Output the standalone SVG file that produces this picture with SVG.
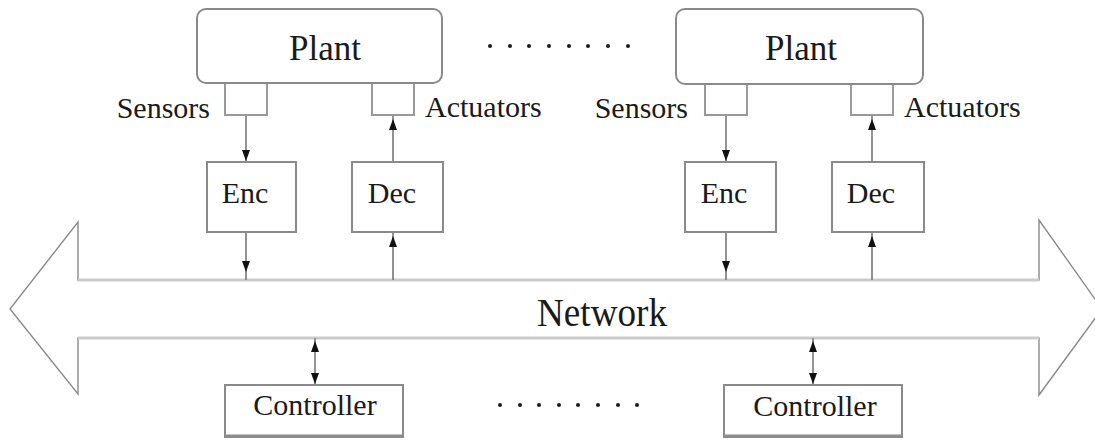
<svg xmlns="http://www.w3.org/2000/svg" xmlns:xlink="http://www.w3.org/1999/xlink" width="1095" height="441" viewBox="0 0 1095 441">
  <style>
    .box { fill: #fff; stroke: #8a8a8a; stroke-width: 2; }
    .port { fill: #fff; stroke: #999; stroke-width: 2; }
    .wire { stroke: #777; stroke-width: 1.6; fill: none; }
    .head { fill: #111; }
    .bus-edge { fill: #fff; stroke: #8a8a8a; stroke-width: 1.4; }
    .bus-rail { stroke: #cbcbcb; stroke-width: 3.2; }
    .base { stroke: #8c8c8c; stroke-width: 3; }
    .dot { fill: #1a1a1a; }
    text { font-family: "Liberation Serif", "Times New Roman", serif; fill: #1a1a1a; }
    .lbl { font-size: 30px; }
    .big { font-size: 35px; }
    .net { font-size: 40px; }
  </style>
  <defs>
    <!-- arrowheads drawn with the tip at the origin -->
    <path id="down" class="head" d="M-4,-11 L4,-11 L0,0 Z"/>
    <path id="up" class="head" d="M-4,11 L4,11 L0,0 Z"/>
  </defs>

  <!-- network bus: double-headed wide arrow -->
  <g id="network">
    <polygon class="bus-edge" points="78,280 78,222 10,309 78,394 78,338 1039,338 1039,395 1102,309 1039,220 1039,280"/>
    <line class="bus-rail" x1="78" y1="280" x2="1039" y2="280"/>
    <line class="bus-rail" x1="78" y1="338" x2="1039" y2="338"/>
    <text class="net" x="602" y="326" text-anchor="middle" textLength="130" lengthAdjust="spacingAndGlyphs">Network</text>
  </g>

  <!-- connectors -->
  <g id="connectors">
    <line class="wire" x1="246" y1="115" x2="246" y2="162"/>
    <line class="wire" x1="246" y1="232" x2="246" y2="280"/>
    <line class="wire" x1="393" y1="115" x2="393" y2="162"/>
    <line class="wire" x1="393" y1="232" x2="393" y2="280"/>
    <line class="wire" x1="726" y1="115" x2="726" y2="162"/>
    <line class="wire" x1="726" y1="232" x2="726" y2="280"/>
    <line class="wire" x1="872" y1="115" x2="872" y2="162"/>
    <line class="wire" x1="872" y1="232" x2="872" y2="280"/>
    <line class="wire" x1="315" y1="338" x2="315" y2="385"/>
    <line class="wire" x1="813" y1="338" x2="813" y2="385"/>

    <use xlink:href="#down" x="246" y="161"/>
    <use xlink:href="#down" x="246" y="272"/>
    <use xlink:href="#up" x="393" y="119"/>
    <use xlink:href="#up" x="393" y="236"/>
    <use xlink:href="#down" x="726" y="161"/>
    <use xlink:href="#down" x="726" y="272"/>
    <use xlink:href="#up" x="872" y="119"/>
    <use xlink:href="#up" x="872" y="236"/>
    <use xlink:href="#up" x="315" y="341"/>
    <use xlink:href="#down" x="315" y="384"/>
    <use xlink:href="#up" x="813" y="341"/>
    <use xlink:href="#down" x="813" y="384"/>
  </g>

  <!-- plant 1 with its sensor and actuator ports -->
  <g id="plant1">
    <rect class="port" x="225" y="83" width="42" height="32"/>
    <rect class="port" x="372" y="83" width="42" height="32"/>
    <rect class="box" x="197" y="9" width="245" height="74" rx="9"/>
    <text class="big" x="325" y="60" text-anchor="middle">Plant</text>
    <text class="lbl" x="210" y="118" text-anchor="end">Sensors</text>
    <text class="lbl" x="425" y="117">Actuators</text>
  </g>

  <!-- plant 2 with its sensor and actuator ports -->
  <g id="plant2">
    <rect class="port" x="705" y="84" width="42" height="31"/>
    <rect class="port" x="851" y="84" width="42" height="31"/>
    <rect class="box" x="676" y="9" width="247" height="75" rx="9"/>
    <text class="big" x="801" y="60" text-anchor="middle">Plant</text>
    <text class="lbl" x="688" y="118" text-anchor="end">Sensors</text>
    <text class="lbl" x="904" y="117">Actuators</text>
  </g>

  <g id="enc1">
    <rect class="box" x="207" y="162" width="89" height="70"/>
    <text class="lbl" x="245" y="203" text-anchor="middle">Enc</text>
  </g>
  <g id="dec1">
    <rect class="box" x="352" y="162" width="91" height="70"/>
    <text class="lbl" x="392" y="203" text-anchor="middle">Dec</text>
  </g>
  <g id="enc2">
    <rect class="box" x="685" y="162" width="91" height="70"/>
    <text class="lbl" x="724" y="203" text-anchor="middle">Enc</text>
  </g>
  <g id="dec2">
    <rect class="box" x="832" y="162" width="92" height="70"/>
    <text class="lbl" x="871" y="203" text-anchor="middle">Dec</text>
  </g>

  <g id="controller1">
    <rect class="box" x="225" y="385" width="178" height="52"/>
    <line class="base" x1="225" y1="436" x2="403" y2="436"/>
    <text class="lbl" x="315" y="415" text-anchor="middle">Controller</text>
  </g>
  <g id="controller2">
    <rect class="box" x="724" y="385" width="178" height="52"/>
    <line class="base" x1="724" y1="436" x2="902" y2="436"/>
    <text class="lbl" x="815" y="416" text-anchor="middle">Controller</text>
  </g>

  <!-- ellipsis rows between repeated plants and controllers -->
  <g id="ellipsis-top">
    <circle class="dot" cx="490" cy="46" r="2"/>
    <circle class="dot" cx="510" cy="46" r="2"/>
    <circle class="dot" cx="529" cy="46" r="2"/>
    <circle class="dot" cx="549" cy="46" r="2"/>
    <circle class="dot" cx="569" cy="46" r="2"/>
    <circle class="dot" cx="588" cy="46" r="2"/>
    <circle class="dot" cx="608" cy="46" r="2"/>
    <circle class="dot" cx="628" cy="46" r="2"/>
  </g>
  <g id="ellipsis-bottom">
    <circle class="dot" cx="500" cy="405" r="2"/>
    <circle class="dot" cx="520" cy="405" r="2"/>
    <circle class="dot" cx="539" cy="405" r="2"/>
    <circle class="dot" cx="559" cy="405" r="2"/>
    <circle class="dot" cx="578" cy="405" r="2"/>
    <circle class="dot" cx="598" cy="405" r="2"/>
    <circle class="dot" cx="618" cy="405" r="2"/>
    <circle class="dot" cx="637" cy="405" r="2"/>
  </g>
</svg>
